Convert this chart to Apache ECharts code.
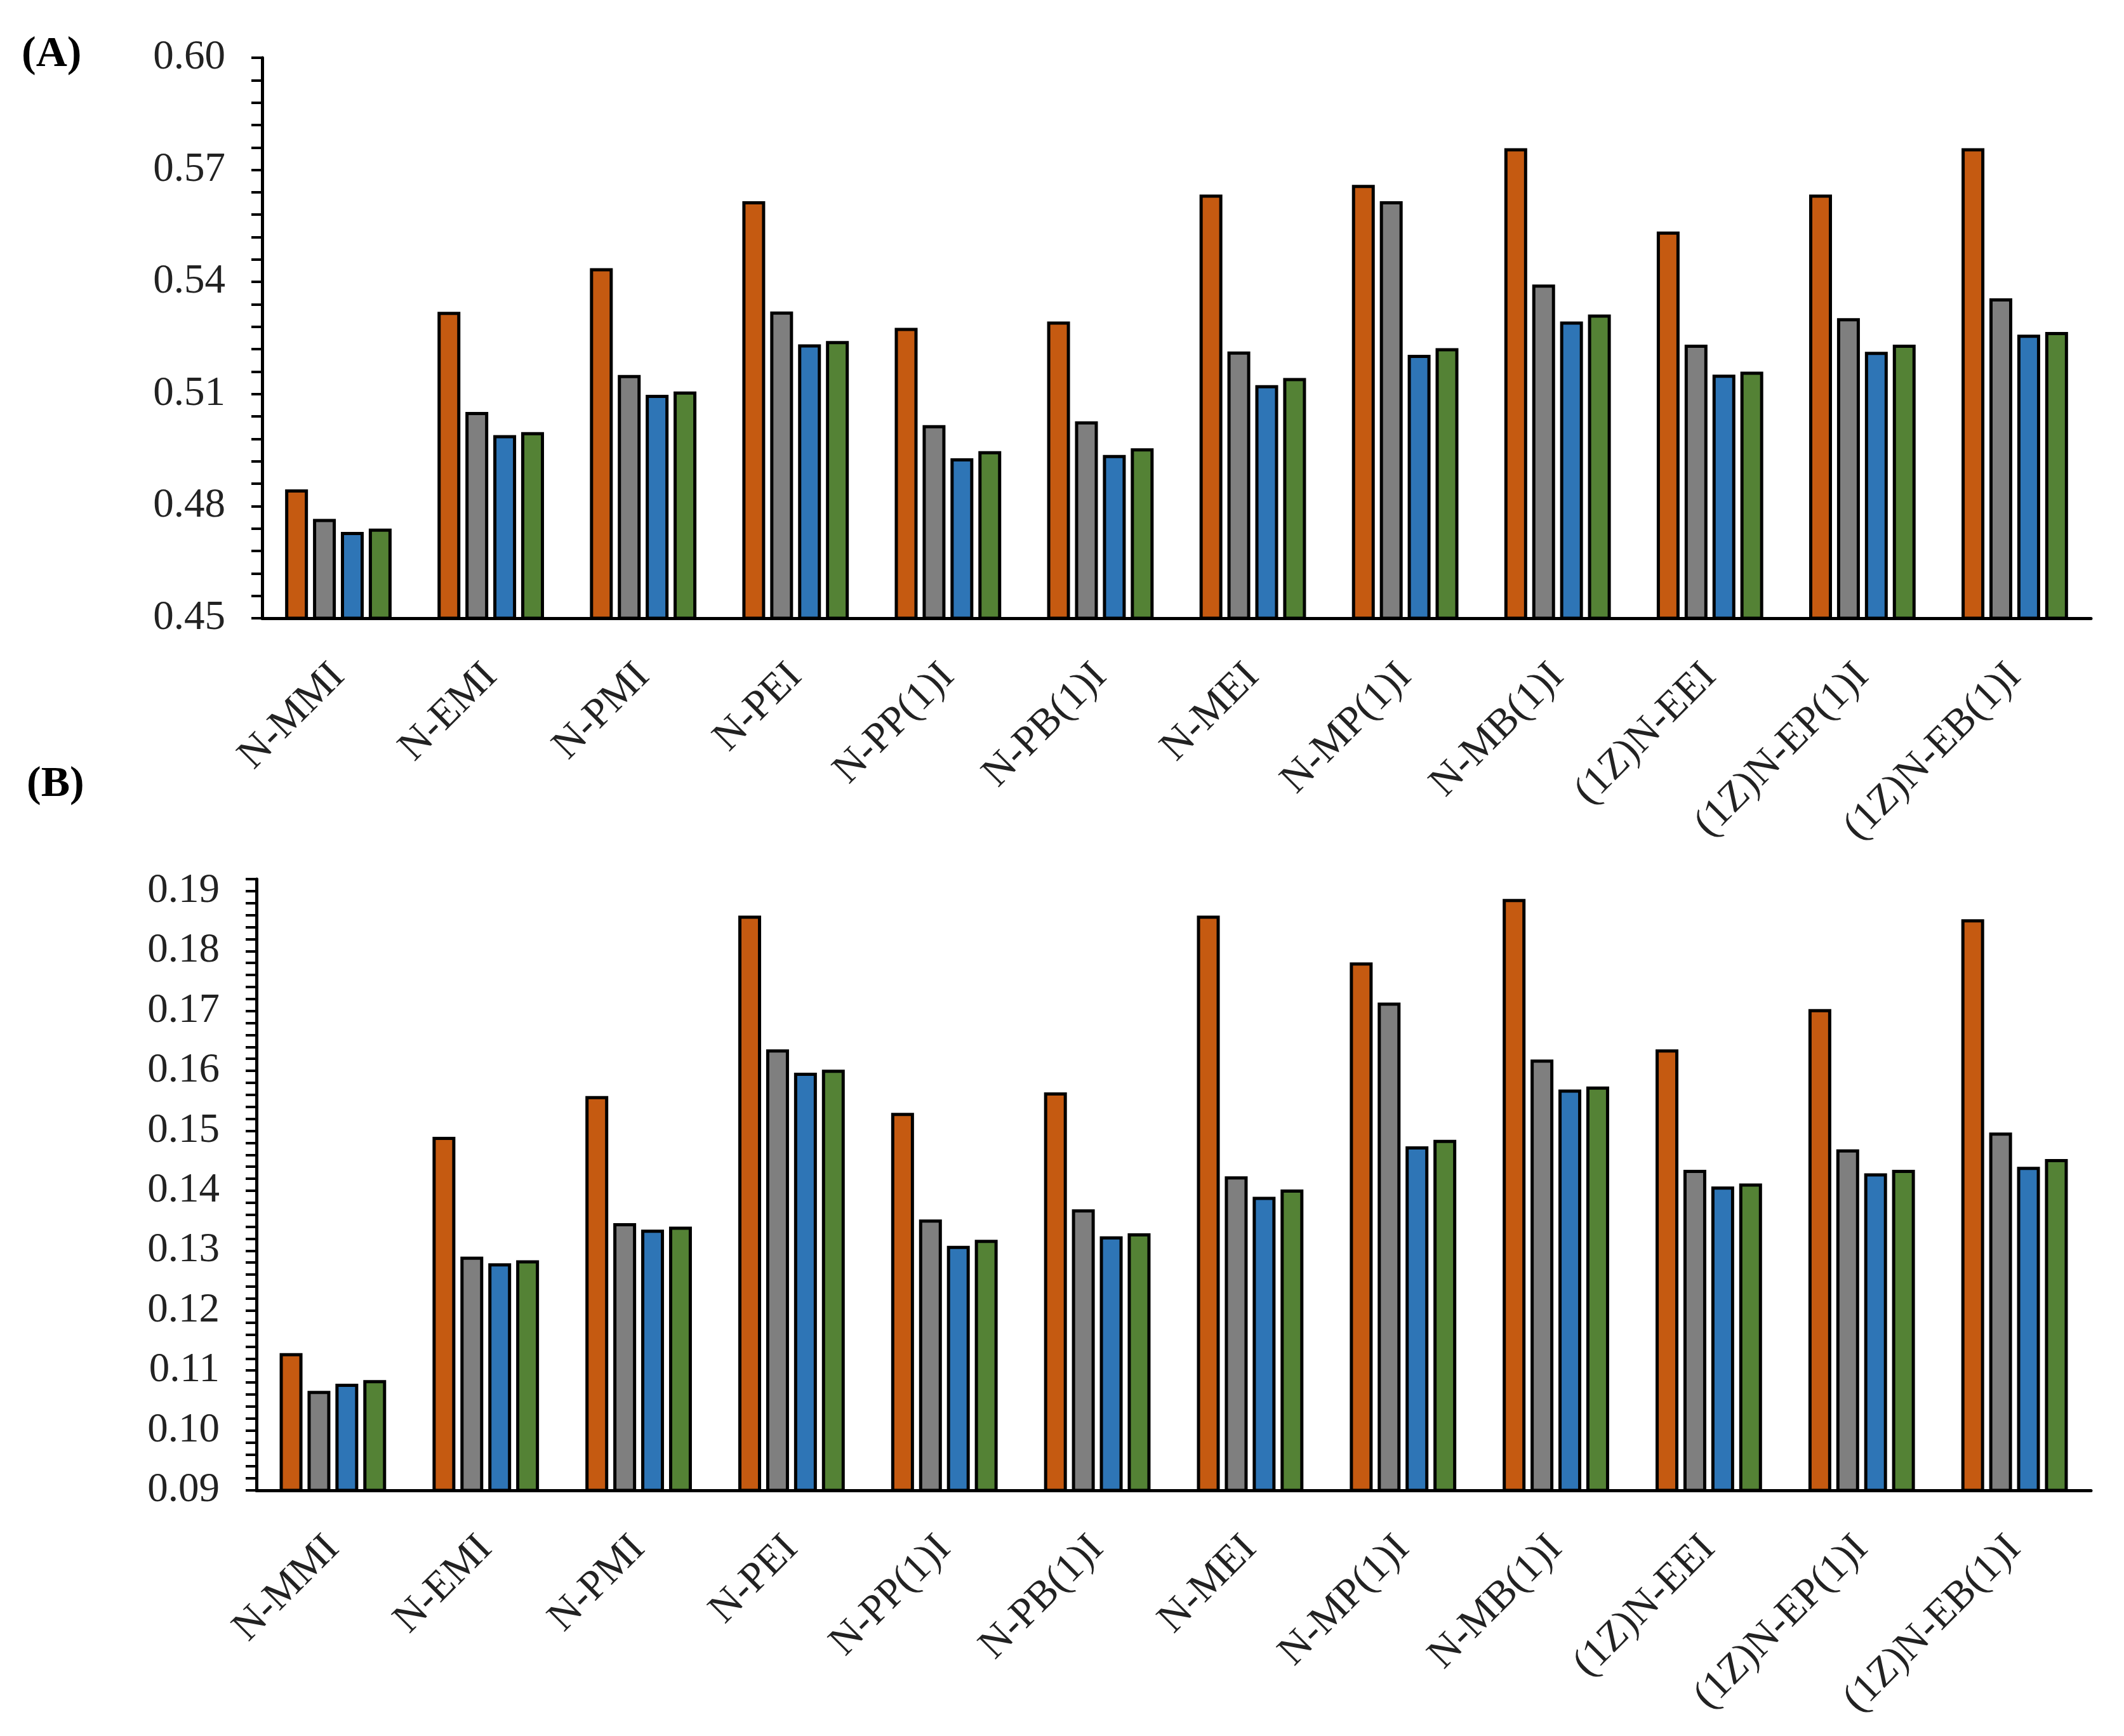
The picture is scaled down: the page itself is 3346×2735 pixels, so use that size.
<!DOCTYPE html>
<html>
<head>
<meta charset="utf-8">
<script src="https://cdn.jsdelivr.net/npm/echarts@6/dist/echarts.min.js"></script>
<style>
html,body{margin:0;padding:0;background:#fff;}
#chart{width:3346px;height:2735px;}
</style>
</head>
<body>
<div id="chart"></div>
<script>
// ---- data ----
const categories = ['N-MMI','N-EMI','N-PMI','N-PEI','N-PP(1)I','N-PB(1)I','N-MEI','N-MP(1)I','N-MB(1)I','(1Z)N-EEI','(1Z)N-EP(1)I','(1Z)N-EB(1)I'];

// Panel (A)
const a_orange = [0.4845, 0.5320, 0.5437, 0.5616, 0.5277, 0.5294, 0.5634, 0.5660, 0.5758, 0.5535, 0.5634, 0.5758];
const a_gray   = [0.4766, 0.5052, 0.5151, 0.5321, 0.5017, 0.5027, 0.5214, 0.5616, 0.5393, 0.5232, 0.5303, 0.5356];
const a_blue   = [0.4731, 0.4990, 0.5098, 0.5233, 0.4928, 0.4937, 0.5124, 0.5205, 0.5294, 0.5152, 0.5213, 0.5259];
const a_green  = [0.4740, 0.4998, 0.5107, 0.5242, 0.4947, 0.4955, 0.5143, 0.5223, 0.5313, 0.5160, 0.5232, 0.5266];

// Panel (B)
const b_orange = [0.1129, 0.1490, 0.1558, 0.1859, 0.1530, 0.1564, 0.1859, 0.1781, 0.1887, 0.1636, 0.1703, 0.1853];
const b_gray   = [0.1066, 0.1290, 0.1346, 0.1636, 0.1352, 0.1369, 0.1424, 0.1714, 0.1619, 0.1435, 0.1469, 0.1497];
const b_blue   = [0.1078, 0.1279, 0.1335, 0.1597, 0.1308, 0.1324, 0.1390, 0.1474, 0.1569, 0.1407, 0.1429, 0.1440];
const b_green  = [0.1084, 0.1284, 0.1340, 0.1602, 0.1318, 0.1329, 0.1402, 0.1485, 0.1574, 0.1412, 0.1435, 0.1453];

// axis settings
const a_axis = {min: 0.45, max: 0.60, tick: 0.006, label: 0.03};
const b_axis = {min: 0.09, max: 0.192, tick: 0.002, label: 0.01};

const colors = ['#C55A11', '#7F7F7F', '#2E75B6', '#548235'];
const FONT = '"Liberation Serif", "Times New Roman", "DejaVu Serif", serif';

function labelFormatter(ax) {
  return function (v) {
    const k = (v - ax.min) / ax.label;
    if (Math.abs(k - Math.round(k)) < 1e-6) return v.toFixed(2);
    return '';
  };
}

function yAxis(idx, ax) {
  return {
    type: 'value', gridIndex: idx,
    min: ax.min, max: ax.max, interval: ax.tick,
    axisLine: {show: true, lineStyle: {color: '#000', width: 5}},
    axisTick: {show: true, length: 17, lineStyle: {color: '#000', width: 4}},
    splitLine: {show: false},
    axisLabel: {
      formatter: labelFormatter(ax),
      fontFamily: FONT, fontSize: 65, color: '#222', margin: 58
    }
  };
}

function xAxis(idx) {
  return {
    type: 'category', gridIndex: idx, data: categories,
    axisLine: {show: true, lineStyle: {color: '#000', width: 5}},
    axisTick: {show: false},
    axisLabel: {
      interval: 0, rotate: 45, margin: 82,
      fontFamily: FONT, fontSize: 65, color: '#222'
    }
  };
}

function barSeries(idx, data, color) {
  return {
    type: 'bar', xAxisIndex: idx, yAxisIndex: idx, data: data,
    barWidth: 36, barGap: '22%',
    itemStyle: {color: color, borderColor: '#000', borderWidth: 5},
    silent: true, animation: false
  };
}

const chart = echarts.init(document.getElementById('chart'), null, {renderer: 'canvas'});
chart.setOption({
  animation: false,
  backgroundColor: '#fff',
  grid: [
    {left: 413, right: 52, top: 91, height: 883},
    {left: 404, right: 52, top: 1385, height: 963}
  ],
  xAxis: [xAxis(0), xAxis(1)],
  yAxis: [yAxis(0, a_axis), yAxis(1, b_axis)],
  series: [
    barSeries(0, a_orange, colors[0]),
    barSeries(0, a_gray, colors[1]),
    barSeries(0, a_blue, colors[2]),
    barSeries(0, a_green, colors[3]),
    barSeries(1, b_orange, colors[0]),
    barSeries(1, b_gray, colors[1]),
    barSeries(1, b_blue, colors[2]),
    barSeries(1, b_green, colors[3])
  ],
  graphic: [
    {type: 'text', left: 34, top: 52, style: {text: '(A)', font: 'bold 68px ' + FONT, fill: '#000'}},
    {type: 'text', left: 42, top: 1202, style: {text: '(B)', font: 'bold 68px ' + FONT, fill: '#000'}}
  ]
});
</script>
</body>
</html>
